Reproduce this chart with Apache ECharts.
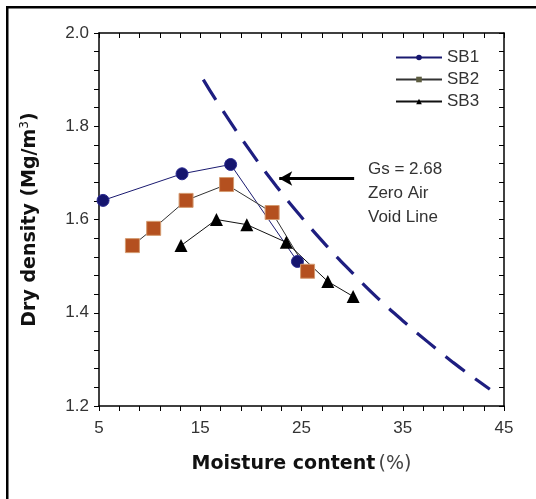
<!DOCTYPE html>
<html>
<head>
<meta charset="utf-8">
<script src="https://cdn.jsdelivr.net/npm/echarts@6/dist/echarts.min.js"></script>
<style>
html,body{margin:0;padding:0;background:#fff;}
#chart{width:536px;height:499px;}
</style>
</head>
<body>
<div id="chart"></div>
<script>
// Data
var sb1 = [[5.4, 1.641], [13.2, 1.698], [18.0, 1.718], [24.6, 1.510]];
var sb2 = [[8.3, 1.544], [10.4, 1.581], [13.6, 1.641], [17.6, 1.675], [22.1, 1.615], [25.6, 1.489]];
var sb3 = [[13.1, 1.544], [16.6, 1.600], [19.6, 1.589], [23.5, 1.551], [27.6, 1.467], [30.1, 1.435]];
var zavLine = [[15.3, 1.900], [17, 1.841], [20, 1.745], [22.5, 1.672], [25, 1.605], [27.5, 1.543],
               [30, 1.486], [32.5, 1.432], [35, 1.383], [37.5, 1.337], [40, 1.293], [42.5, 1.253], [43.6, 1.236]];
var xTicks = {min: 5, max: 45, interval: 10};
var yTicks = {min: 1.2, max: 2.0, interval: 0.2};
var arrowFrom = [30.2, 1.688];
var arrowTo = [22.8, 1.688];
var annotationLines = ['Gs = 2.68', 'Zero Air', 'Void Line'];

var chart = echarts.init(document.getElementById('chart'), null, {renderer: 'canvas'});
var tickFont = {fontFamily: 'Liberation Sans, Arial, sans-serif', fontSize: 17, color: '#333'};
function baseAxis(extra) {
  var a = {
    type: 'value',
    axisLine: {show: true, onZero: false, lineStyle: {color: '#000', width: 1.5}},
    axisTick: {show: true, inside: false, length: 5, lineStyle: {color: '#000', width: 1}},
    minorTick: {show: true, splitNumber: 5, length: 5, lineStyle: {color: '#000', width: 1}},
    splitLine: {show: false},
    minorSplitLine: {show: false}
  };
  for (var k in extra) a[k] = extra[k];
  return a;
}

var option = {
  animation: false,
  backgroundColor: '#fff',
  grid: {left: 99, right: 32, top: 33, bottom: 93, containLabel: false},
  xAxis: [
    baseAxis({
      position: 'bottom', min: xTicks.min, max: xTicks.max, interval: xTicks.interval,
      axisLabel: Object.assign({margin: 14}, tickFont),
      name: '{b|Moisture content} {n|(%)}',
      nameLocation: 'middle', nameGap: 49,
      nameTextStyle: {
        rich: {
          b: {fontFamily: 'DejaVu Sans, sans-serif', fontWeight: 'bold', fontSize: 19, color: '#111'},
          n: {fontFamily: 'DejaVu Sans, sans-serif', fontSize: 19, color: '#444'}
        }
      }
    }),
    baseAxis({
      position: 'top', min: xTicks.min, max: xTicks.max, interval: xTicks.interval,
      axisLabel: {show: false},
      axisTick: {show: true, inside: true, length: 5, lineStyle: {color: '#000', width: 1}},
      minorTick: {show: true, splitNumber: 5, length: 5, lineStyle: {color: '#000', width: 1}}
    })
  ],
  yAxis: [
    baseAxis({
      position: 'left', min: yTicks.min, max: yTicks.max, interval: yTicks.interval,
      axisLabel: Object.assign({margin: 10, formatter: function (v) { return v.toFixed(1); }}, tickFont),
      name: '{b|Dry density (Mg/m}{s|3}{b|)}',
      nameLocation: 'middle', nameGap: 58,
      nameTextStyle: {
        rich: {
          b: {fontFamily: 'DejaVu Sans, sans-serif', fontWeight: 'bold', fontSize: 19, color: '#111'},
          s: {fontFamily: 'DejaVu Sans, sans-serif', fontSize: 12, color: '#111', verticalAlign: 'top', padding: [0, 0, 10, 0]}
        }
      }
    }),
    baseAxis({
      position: 'right', min: yTicks.min, max: yTicks.max, interval: yTicks.interval,
      axisLabel: {show: false},
      axisTick: {show: true, inside: true, length: 5, lineStyle: {color: '#000', width: 1}},
      minorTick: {show: true, splitNumber: 5, length: 5, lineStyle: {color: '#000', width: 1}}
    })
  ],
  legend: {
    data: [
      {name: 'SB1', itemStyle: {color: '#15156e', borderWidth: 0}},
      {name: 'SB2', itemStyle: {color: '#5c5c40', borderWidth: 0}},
      {name: 'SB3', itemStyle: {color: '#000', borderWidth: 0}}
    ],
    orient: 'vertical',
    left: 390, top: 44,
    itemWidth: 46, itemHeight: 7, itemGap: 5,
    textStyle: {fontFamily: 'Liberation Sans, Arial, sans-serif', fontSize: 17, color: '#333'},
    selectedMode: false
  },
  series: [
    {
      name: 'ZAV', type: 'line', data: zavLine, smooth: true, showSymbol: false, symbol: 'none',
      lineStyle: {color: '#1e1e80', width: 3.2, type: [24, 13]},
      z: 1,
      markLine: {
        silent: true, symbol: ['none', 'arrow'], symbolSize: [11, 13],
        lineStyle: {color: '#000', width: 3, type: 'solid'},
        label: {show: false},
        data: [[{coord: arrowFrom}, {coord: arrowTo}]]
      }
    },
    {
      name: 'SB1', type: 'line', data: sb1, symbol: 'circle', symbolSize: 12,
      itemStyle: {color: '#15156e', borderColor: '#2a2a90', borderWidth: 1},
      lineStyle: {color: '#1a1a70', width: 1},
      z: 3
    },
    {
      name: 'SB2', type: 'line', data: sb2, symbol: 'rect', symbolSize: 14,
      itemStyle: {color: '#b4501f', borderColor: '#d49a70', borderWidth: 1},
      lineStyle: {color: '#333', width: 1},
      z: 3
    },
    {
      name: 'SB3', type: 'line', data: sb3, symbol: 'triangle', symbolSize: 13,
      itemStyle: {color: '#000'},
      lineStyle: {color: '#111', width: 1},
      z: 3
    }
  ],
  graphic: [
    {type: 'rect', shape: {x: 6, y: 6, width: 540, height: 2.5}, style: {fill: '#000'}, silent: true},
    {type: 'rect', shape: {x: 6, y: 6, width: 2.5, height: 510}, style: {fill: '#000'}, silent: true},
    {type: 'text', left: 368, top: 161, style: {text: annotationLines[0], font: '17px "Liberation Sans", Arial, sans-serif', fill: '#333'}},
    {type: 'text', left: 368, top: 185, style: {text: annotationLines[1], font: '17px "Liberation Sans", Arial, sans-serif', fill: '#333'}},
    {type: 'text', left: 368, top: 209, style: {text: annotationLines[2], font: '17px "Liberation Sans", Arial, sans-serif', fill: '#333'}}
  ]
};
chart.setOption(option);
</script>
</body>
</html>
